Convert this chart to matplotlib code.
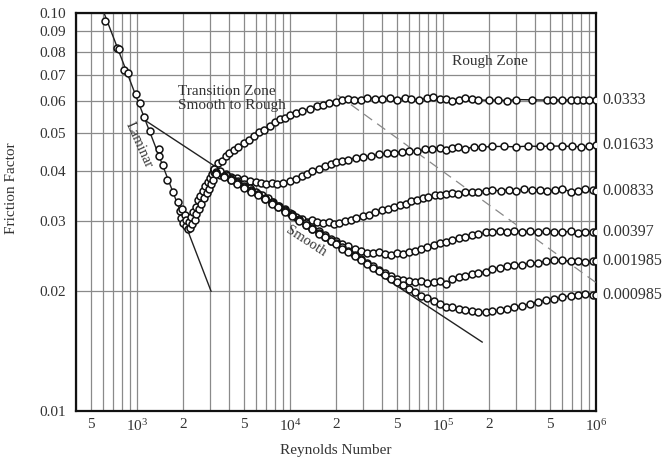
import numpy as np
import matplotlib.pyplot as plt
from matplotlib.ticker import FixedLocator, NullFormatter

plt.rcParams['font.family'] = ['Liberation Serif', 'DejaVu Serif']
plt.rcParams['mathtext.fontset'] = 'custom'
plt.rcParams['mathtext.rm'] = 'Liberation Serif'

# laminar + transition data (shared by all pipes)
trans_re = [618, 740, 765, 822, 873, 985, 1050, 1110, 1216, 1391, 1400, 1480, 1571, 1718, 1853,
            1900, 1950, 1980, 2000, 2050, 2080, 2100, 2150, 2180, 2220, 2250, 2300, 2330, 2380,
            2420, 2450, 2500, 2550, 2600, 2640, 2700, 2750, 2800, 2850, 2900, 2950, 3000, 3050,
            3100, 3150, 3200]
trans_f = [0.0955, 0.0817, 0.081, 0.072, 0.0707, 0.0626, 0.0594, 0.0549, 0.0505, 0.0455, 0.0437,
           0.0415, 0.038, 0.0355, 0.0335, 0.0318, 0.0305, 0.0322, 0.0296, 0.031, 0.0292, 0.0302,
           0.0286, 0.0298, 0.0289, 0.0308, 0.0295, 0.0316, 0.0302, 0.0325, 0.0312, 0.0338, 0.0322,
           0.0346, 0.0331, 0.0358, 0.0342, 0.0368, 0.0352, 0.0377, 0.0362, 0.0386, 0.0372, 0.0395,
           0.0381, 0.0402]

# relative roughness k/D labels
rough_labels = ["0.0333", "0.01633", "0.00833", "0.00397", "0.001985", "0.000985"]

re_a = [3200, 3400, 3600, 3800, 4000, 4300, 4600, 5000, 5400, 5800, 6300, 6800, 7400, 8000, 8600,
        9300, 10000, 11000, 12000, 13500, 15000, 16500, 18000, 20000, 22000, 24000, 26000, 29000,
        32000, 36000, 40000, 45000, 50000, 56000, 62000, 70000, 78000, 86000, 95000, 105000,
        115000, 128000, 140000, 155000, 170000, 200000, 230000, 260000, 300000, 380000, 480000,
        520000, 600000, 680000, 750000, 820000, 900000, 1000000]
f_a = [0.0405, 0.042, 0.0425, 0.0438, 0.0445, 0.0452, 0.046, 0.0472, 0.048, 0.0492, 0.0502,
       0.0508, 0.052, 0.0532, 0.0542, 0.0546, 0.0553, 0.0562, 0.0566, 0.0575, 0.0583, 0.0588,
       0.0594, 0.0599, 0.0603, 0.0608, 0.0604, 0.0606, 0.0612, 0.0609, 0.0607, 0.0611, 0.0606,
       0.0612, 0.0608, 0.0604, 0.0611, 0.0615, 0.0607, 0.0609, 0.0602, 0.0605, 0.0612, 0.0609,
       0.0605, 0.0603, 0.0605, 0.0602, 0.0606, 0.0605, 0.0604, 0.0606, 0.0603, 0.0605, 0.0603,
       0.0604, 0.0604, 0.0605]

re_b = [3200, 3500, 3800, 4100, 4500, 5000, 5500, 6000, 6500, 7000, 7600, 8200, 9000, 10000,
        11000, 12000, 13000, 14000, 15500, 17000, 18500, 20000, 22000, 24000, 27000, 30000, 34000,
        38000, 43000, 48000, 54000, 60000, 68000, 76000, 85000, 95000, 105000, 115000, 125000,
        140000, 160000, 180000, 210000, 250000, 300000, 360000, 430000, 500000, 600000, 700000,
        800000, 900000, 1000000]
f_b = [0.0398, 0.0392, 0.0395, 0.0388, 0.0386, 0.0382, 0.0378, 0.0376, 0.0374, 0.0372, 0.0374,
       0.0371, 0.0375, 0.0378, 0.0383, 0.0389, 0.0394, 0.0401, 0.0406, 0.0412, 0.0418, 0.0423,
       0.0425, 0.0428, 0.0433, 0.0435, 0.0437, 0.0441, 0.0444, 0.0446, 0.0448, 0.0451, 0.0449,
       0.0454, 0.0456, 0.0457, 0.0452, 0.0459, 0.0461, 0.0456, 0.0461, 0.046, 0.0462, 0.0462,
       0.0461, 0.0463, 0.0462, 0.0463, 0.0463, 0.0462, 0.0461, 0.0462, 0.0465]

re_c = [3200, 3500, 3800, 4200, 4600, 5000, 5500, 6000, 6600, 7200, 7800, 8500, 9300, 10000,
        11000, 12000, 13000, 14000, 15000, 16500, 18000, 19500, 21000, 23000, 25000, 27000, 30000,
        33000, 36000, 40000, 44000, 48000, 52000, 57000, 62000, 68000, 74000, 80000, 88000, 96000,
        105000, 115000, 125000, 140000, 155000, 170000, 190000, 210000, 240000, 270000, 300000,
        340000, 380000, 430000, 480000, 540000, 600000, 680000, 760000, 850000, 950000, 1000000]
f_c = [0.0405, 0.04, 0.0392, 0.0385, 0.0378, 0.0372, 0.0363, 0.0356, 0.0348, 0.0342, 0.0335,
       0.0328, 0.0322, 0.0315, 0.0308, 0.0303, 0.0299, 0.0302, 0.0298, 0.0296, 0.0299, 0.0295,
       0.0297, 0.0301, 0.0302, 0.0305, 0.0309, 0.0311, 0.0316, 0.0319, 0.0322, 0.0325, 0.0329,
       0.0332, 0.0336, 0.0339, 0.0343, 0.0345, 0.0349, 0.0348, 0.035, 0.0352, 0.0351, 0.0354,
       0.0356, 0.0355, 0.0358, 0.0359, 0.0357, 0.036, 0.0358, 0.0361, 0.0359, 0.036, 0.0357,
       0.0359, 0.0361, 0.0356, 0.0358, 0.0361, 0.0359, 0.0358]

re_def = [3300, 3700, 4100, 4500, 5000, 5600, 6200, 6900, 7600, 8400, 9300, 10300, 11500, 12800,
          14000, 15500, 17000, 18500, 20000, 22000, 24000, 26500, 29000, 32000, 35000, 38000,
          42000, 46000, 50000, 55000, 60000, 66000, 72000, 79000, 87000, 95000, 105000, 115000,
          128000, 140000, 155000, 170000, 190000, 210000, 235000, 260000, 290000, 330000, 370000,
          420000, 470000, 530000, 600000, 680000, 760000, 850000, 950000, 1000000]
f_d = [0.0398, 0.039, 0.0383, 0.0376, 0.0368, 0.036, 0.0351, 0.0342, 0.0335, 0.0327, 0.032,
       0.0312, 0.0304, 0.0296, 0.0289, 0.0283, 0.0276, 0.0271, 0.0267, 0.0262, 0.0259, 0.0255,
       0.0253, 0.025, 0.0249, 0.0251, 0.0248, 0.0247, 0.0249, 0.0248, 0.0251, 0.0253, 0.0256,
       0.0258, 0.0261, 0.0264, 0.0266, 0.0269, 0.0272, 0.0274, 0.0276, 0.0278, 0.0281, 0.0282,
       0.0283, 0.0281, 0.0284, 0.0282, 0.0283, 0.0281, 0.0283, 0.0282, 0.0281, 0.0283, 0.028,
       0.0282, 0.0281, 0.0281]
f_e = [0.0396, 0.0389, 0.0381, 0.0374, 0.0366, 0.0358, 0.035, 0.0341, 0.0333, 0.0326, 0.0318,
       0.031, 0.0302, 0.0294, 0.0287, 0.028, 0.0274, 0.0268, 0.0264, 0.0258, 0.0252, 0.0246,
       0.0241, 0.0235, 0.0231, 0.0226, 0.0222, 0.0218, 0.0215, 0.0213, 0.0212, 0.0211, 0.0212,
       0.021, 0.0211, 0.0212, 0.0209, 0.0214, 0.0217, 0.0218, 0.0221, 0.0222, 0.0224, 0.0227,
       0.0229, 0.0231, 0.0233, 0.0233, 0.0235, 0.0236, 0.0238, 0.024, 0.0239, 0.0238, 0.0238,
       0.0237, 0.0238, 0.0238]
f_f = [0.0394, 0.0387, 0.038, 0.0372, 0.0364, 0.0356, 0.0348, 0.034, 0.0332, 0.0325, 0.0317,
       0.0309, 0.0301, 0.0293, 0.0286, 0.0279, 0.0273, 0.0267, 0.0262, 0.0256, 0.0251, 0.0245,
       0.024, 0.0234, 0.0229, 0.0225, 0.0219, 0.0215, 0.0211, 0.0207, 0.0203, 0.0199, 0.0195,
       0.0192, 0.0189, 0.0186, 0.0183, 0.0182, 0.018, 0.0179, 0.0178, 0.0177, 0.0177, 0.0178,
       0.0179, 0.018, 0.0182, 0.0184, 0.0186, 0.0188, 0.019, 0.0191, 0.0193, 0.0195, 0.0196,
       0.0197, 0.0196, 0.0196]

# reference lines
laminar_re = [610, 3050]
laminar_f = [0.1, 0.02]
smooth_re = [1150, 180000]
smooth_f = [0.0535, 0.0149]
rough_re = [20500, 1000000]
rough_f = [0.0622, 0.021]

x_ticks = [500, 1e3, 2e3, 5e3, 1e4, 2e4, 5e4, 1e5, 2e5, 5e5, 1e6]
x_labels = ["5", r"$\mathregular{10^3}$", "2", "5", r"$\mathregular{10^4}$", "2", "5",
            r"$\mathregular{10^5}$", "2", "5", r"$\mathregular{10^6}$"]
y_ticks = [0.01, 0.02, 0.03, 0.04, 0.05, 0.06, 0.07, 0.08, 0.09, 0.10]
y_labels = ["0.01", "0.02", "0.03", "0.04", "0.05", "0.06", "0.07", "0.08", "0.09", "0.10"]

fig = plt.figure(figsize=(6.63, 4.57), dpi=100)
ax = fig.add_axes([0.1146, 0.1007, 0.7846, 0.8709])
ax.set_xscale("log")
ax.set_yscale("log")
ax.set_xlim(400, 1e6)
ax.set_ylim(0.01, 0.1)

# grid
minor_x = [m * 10**e for e in range(2, 6) for m in range(1, 10) if 400 <= m * 10**e <= 1e6]
ax.xaxis.set_major_locator(FixedLocator(x_ticks))
ax.xaxis.set_minor_locator(FixedLocator(minor_x))
ax.set_xticklabels(x_labels)
ax.xaxis.set_minor_formatter(NullFormatter())
ax.yaxis.set_major_locator(FixedLocator(y_ticks))
ax.yaxis.set_minor_locator(FixedLocator([]))
ax.set_yticklabels(y_labels)
ax.yaxis.set_minor_formatter(NullFormatter())
ax.grid(which="both", axis="x", color="#8a8a8a", lw=0.9)
ax.grid(which="major", axis="y", color="#8a8a8a", lw=0.9)
ax.tick_params(which="both", length=0, labelsize=11, colors="#333333")
ax.tick_params(axis="y", pad=7)
ax.tick_params(axis="x", pad=5)
for s in ax.spines.values():
    s.set_linewidth(1.6)
    s.set_color("#111111")

# reference lines
ax.plot(laminar_re, laminar_f, color="#222222", lw=1.0, zorder=3)
ax.plot(smooth_re, smooth_f, color="#222222", lw=1.0, zorder=3)
ax.plot(rough_re, rough_f, color="#888888", lw=0.9, ls=(0, (8, 5)), zorder=3)

mk = dict(marker="o", ms=5, mfc="white", mec="#111111", mew=1.1, zorder=4)
ax.plot(trans_re, trans_f, ls="none", **mk)

series = [(re_a, f_a), (re_b, f_b), (re_c, f_c), (re_def, f_d), (re_def, f_e), (re_def, f_f)]
for (re, f), lab in zip(series, rough_labels):
    ax.plot(re, f, color="#111111", lw=1.0, **mk)
    ax.text(1.1e6, f[-1], lab, fontsize=11.5, color="#333333", va="center", ha="left",
            clip_on=False)

ax.text(1030, 0.0466, "Laminar", rotation=-66, fontsize=10.5, color="#333333",
        ha="center", va="center")
ax.text(12700, 0.0267, "Smooth", rotation=-33, fontsize=10.5, color="#333333",
        ha="center", va="center")
ax.text(1853, 0.061, "Transition Zone\nSmooth to Rough", fontsize=11, color="#333333",
        ha="left", va="center", linespacing=1.15)
ax.text(203000, 0.0754, "Rough Zone", fontsize=11, color="#333333", ha="center", va="center")

ax.set_xlabel("Reynolds Number", fontsize=11, color="#333333", labelpad=7)
ax.set_ylabel("Friction Factor", fontsize=11, color="#333333")
ax.yaxis.set_label_coords(-0.112, 0.56)

fig.savefig("out.png", dpi=100)
